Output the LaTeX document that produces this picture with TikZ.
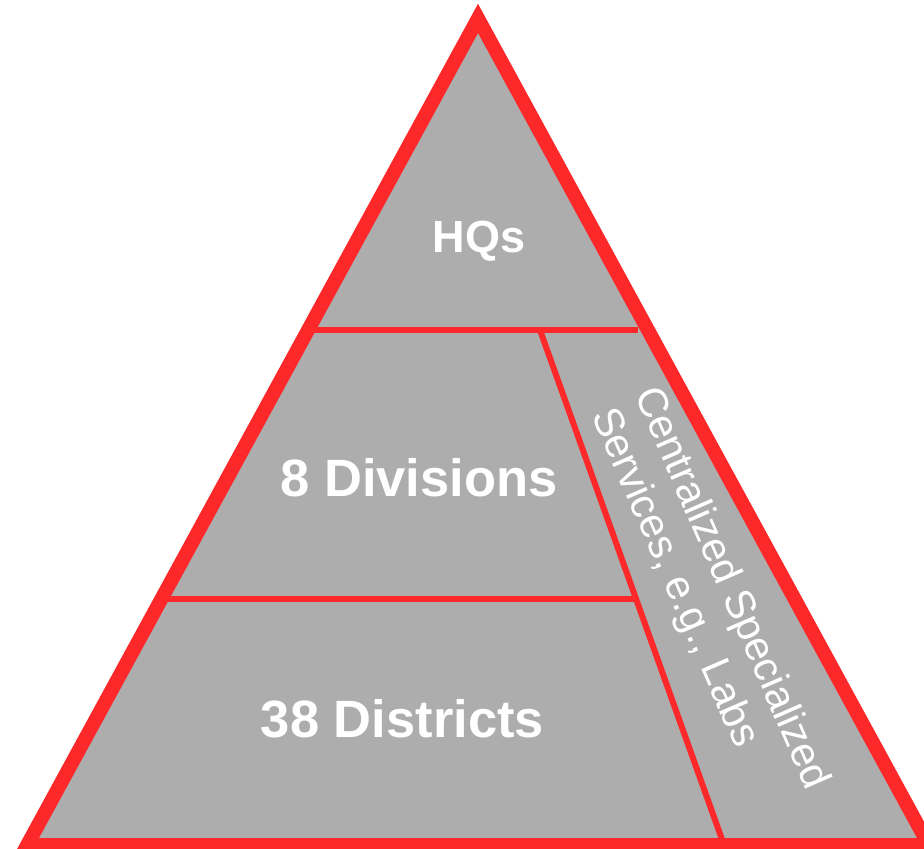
\documentclass[tikz,border=0pt]{standalone}
\usepackage{fontspec}
\setmainfont{Liberation Sans}
\definecolor{pyrred}{RGB}{252,40,42}
\definecolor{pyrgray}{RGB}{173,173,173}
\tikzset{
  outline/.style={draw=pyrred, line width=14pt, line join=miter},
  divider/.style={draw=pyrred, line width=6pt},
  biglabel/.style={text=white, font=\bfseries\fontsize{52.5}{60}\selectfont, inner sep=0pt},
  toplabel/.style={text=white, font=\bfseries\fontsize{45}{54}\selectfont, inner sep=0pt},
  sidelabel/.style={text=white, font=\fontsize{41.5}{48}\selectfont, inner sep=0pt, rotate=-66.5, anchor=base west}
}
\begin{document}
\begin{tikzpicture}[x=1pt, y=-1pt]
\useasboundingbox (0,0) rectangle (924,849);
% corners
\coordinate (apex) at (478,18.4);
\coordinate (bl) at (27.2,845);
\coordinate (br) at (928.8,845);
% triangle fill
\fill[pyrgray] (apex) -- (bl) -- (br) -- cycle;
% divider ends
\coordinate (h1l) at (308,330);
\coordinate (h1r) at (638,330);
\coordinate (dtop) at (540,330);
\coordinate (dbot) at (724,845);
\coordinate (h2l) at (162,598.5);
\coordinate (h2r) at (635,598.5);
\draw[divider] (h1l) -- (h1r);
\draw[divider] (dtop) -- (dbot);
\draw[divider] (h2l) -- (h2r);
% outline on top
\draw[outline] (apex) -- (bl) -- (br) -- cycle;
% labels
\node[toplabel, anchor=base] (hq) at (479,252) {HQs};
\node[biglabel, anchor=base] (div) at (419,496) {8 Divisions};
\node[biglabel, anchor=base] (dist) at (402.5,737) {38 Districts};
\node[sidelabel] (css1) at (634,394) {Centralized Specialized};
\node[sidelabel] (css2) at (591,415) {Services, e.g., Labs};
\end{tikzpicture}
\end{document}
